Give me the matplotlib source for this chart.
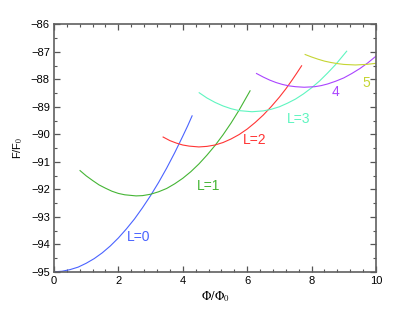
import matplotlib
matplotlib.use('Agg')
import matplotlib.pyplot as plt
from matplotlib.ticker import MultipleLocator

plt.rcParams['font.family'] = ['Liberation Sans', 'DejaVu Sans']
plt.rcParams['mathtext.fontset'] = 'stix'

# curves (flux, free energy)
x0 = [0, 0.25, 0.5, 0.75, 1, 1.25, 1.5, 1.75, 2, 2.25, 2.5, 2.75, 3, 3.25,
      3.5, 3.75, 4, 4.15, 4.29]
y0 = [-95.00, -94.98, -94.92, -94.83, -94.69, -94.52, -94.31, -94.06, -93.77,
      -93.44, -93.08, -92.67, -92.23, -91.75, -91.23, -90.67, -90.07, -89.70,
      -89.33]

x1 = [0.81, 1.0, 1.2, 1.4, 1.6, 1.8, 2.0, 2.2, 2.55, 2.75, 3.0, 3.25, 3.5,
      3.75, 4.0, 4.25, 4.5, 4.75, 5.0, 5.25, 5.5, 5.75, 6.09]
y1 = [-91.32, -91.51, -91.68, -91.84, -91.96, -92.07, -92.15, -92.20, -92.24,
      -92.23, -92.18, -92.09, -91.97, -91.80, -91.60, -91.36, -91.08, -90.76,
      -90.41, -90.02, -89.59, -89.12, -88.42]

x2 = [3.39, 3.6, 3.8, 4.0, 4.2, 4.5, 4.75, 5.0, 5.25, 5.5, 5.75, 6.0, 6.25,
      6.5, 6.75, 7.0, 7.2, 7.4, 7.55, 7.69]
y2 = [-90.10, -90.23, -90.32, -90.39, -90.43, -90.46, -90.44, -90.39, -90.30,
      -90.17, -90.01, -89.81, -89.57, -89.30, -88.99, -88.65, -88.35, -88.02,
      -87.76, -87.51]

x3 = [4.51, 4.75, 5.0, 5.25, 5.5, 5.75, 6.15, 6.5, 6.75, 7.0, 7.25, 7.5, 7.75,
      8.0, 8.25, 8.5, 8.75, 9.09]
y3 = [-88.49, -88.68, -88.84, -88.97, -89.07, -89.14, -89.18, -89.15, -89.09,
      -89.00, -88.87, -88.72, -88.53, -88.31, -88.06, -87.77, -87.46, -86.98]

x4 = [6.29, 6.5, 6.7, 6.9, 7.1, 7.3, 7.5, 7.77, 8.1, 8.3, 8.5, 8.75, 9.0,
      9.25, 9.5, 9.75, 10]
y4 = [-87.79, -87.92, -88.03, -88.12, -88.19, -88.24, -88.27, -88.29, -88.27,
      -88.23, -88.17, -88.07, -87.95, -87.79, -87.61, -87.40, -87.16]

x5 = [7.8, 8.0, 8.2, 8.4, 8.6, 8.8, 9.0, 9.36, 9.7, 9.85, 10]
y5 = [-87.10, -87.19, -87.27, -87.34, -87.39, -87.43, -87.46, -87.48, -87.46,
      -87.44, -87.42]

labels = ['L=0', 'L=1', 'L=2', 'L=3', '4', '5']
label_x = [2.64, 4.79, 6.24, 7.59, 8.74, 9.69]
label_y = [-93.73, -91.87, -90.21, -89.46, -88.46, -88.12]
colors = ['#4a63ff', '#45b535', '#ff3535', '#5ff5c0', '#aa44ff', '#c5d533']

fig = plt.figure(figsize=(4.15, 3.11), dpi=100)
ax = fig.add_axes([0.130, 0.126, 0.776, 0.796])

xs = [x0, x1, x2, x3, x4, x5]
ys = [y0, y1, y2, y3, y4, y5]
for i in range(6):
    ax.plot(xs[i], ys[i], color=colors[i], lw=0.8)
    ax.text(label_x[i], label_y[i], labels[i], color=colors[i], fontsize=10,
            ha='center', va='center')

ax.set_xlim(0, 10)
ax.set_ylim(-95, -86)
ax.xaxis.set_major_locator(MultipleLocator(2))
ax.xaxis.set_minor_locator(MultipleLocator(0.4))
ax.yaxis.set_major_locator(MultipleLocator(1))
ax.yaxis.set_minor_locator(MultipleLocator(0.5))
ax.tick_params(which='both', direction='in', top=True, right=True,
               color='#555555', labelsize=8, pad=3)
ax.tick_params(which='major', length=4, width=0.9)
ax.tick_params(which='minor', length=2.5, width=0.8)
for s in ax.spines.values():
    s.set_color('#606060')
    s.set_linewidth(1.2)

ax.set_xlabel(r'$\Phi/\Phi_0$', fontsize=9, labelpad=2)
ax.set_ylabel(r'F/F$_0$', fontsize=8, labelpad=4)

fig.savefig('out.png', dpi=100)
